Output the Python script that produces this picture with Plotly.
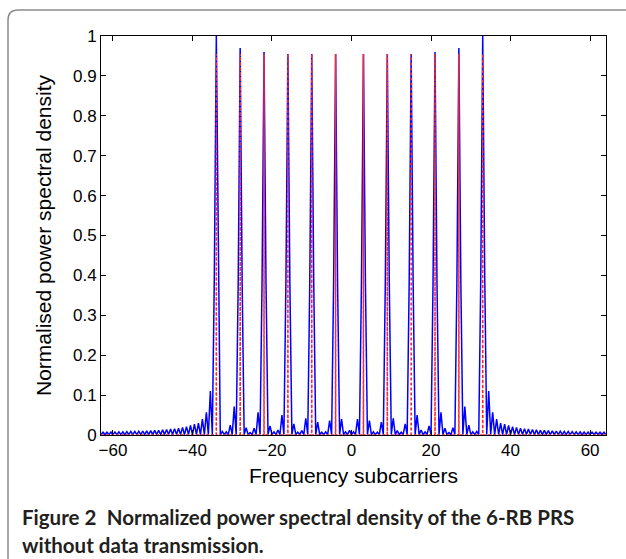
import numpy as np
import plotly.graph_objects as go

# ---------------- data ----------------
# PRS subcarrier positions and blue (actual PSD) peak heights
peak_pos = [-34, -28, -22, -16, -10, -4, 3, 9, 15, 21, 27, 33]
peak_blue = [1.0, 0.97, 0.96, 0.955, 0.955, 0.955, 0.955, 0.955, 0.955, 0.96, 0.97, 1.0]
# red dashed (ideal) impulse heights
peak_red = [0.955, 0.955, 0.955, 0.955, 0.955, 0.955, 0.955, 0.955, 0.955, 0.955, 0.955, 0.955]

# blue curve: value at integer subcarriers between lobes (nulls)
null_level = 0.001
int_grid = list(range(-63, 65))            # -63 .. 64
# blue curve: values at half-integer positions -62.5 .. 63.5
half_vals = [
    # left tail -62.5 .. -35.5
    0.007, 0.007, 0.0075, 0.0075, 0.008, 0.008, 0.0085, 0.009, 0.009, 0.0095,
    0.010, 0.0105, 0.011, 0.0115, 0.012, 0.013, 0.014, 0.015, 0.016, 0.017,
    0.019, 0.021, 0.024, 0.027, 0.030, 0.040, 0.057, 0.11,
    # -34.5 .. -3.5
    0.40, 0.39, 0.009, 0.008, 0.025, 0.071,
    0.38, 0.38, 0.018, 0.006, 0.017, 0.057,
    0.38, 0.38, 0.023, 0.008, 0.0125, 0.05,
    0.38, 0.38, 0.028, 0.007, 0.011, 0.042,
    0.38, 0.38, 0.032, 0.007, 0.008, 0.036,
    0.38, 0.38,
    # -2.5 .. 1.5
    0.040, 0.008, 0.012, 0.008, 0.040,
    # 2.5 .. 33.5
    0.38, 0.38, 0.036, 0.008, 0.007, 0.032,
    0.38, 0.38, 0.042, 0.011, 0.007, 0.028,
    0.38, 0.38, 0.05, 0.0125, 0.008, 0.023,
    0.38, 0.38, 0.057, 0.017, 0.006, 0.018,
    0.38, 0.38, 0.071, 0.025, 0.008, 0.009,
    0.39, 0.40,
    # right tail 34.5 .. 63.5
    0.11, 0.057, 0.040, 0.030, 0.027, 0.024, 0.021, 0.019, 0.017, 0.016,
    0.015, 0.014, 0.013, 0.012, 0.0115, 0.011, 0.0105, 0.010, 0.0095, 0.009,
    0.009, 0.0085, 0.008, 0.008, 0.0075, 0.0075, 0.007, 0.007, 0.007, 0.007,
]

x_ticks = [-60, -40, -20, 0, 20, 40, 60]
y_ticks = [0, 0.1, 0.2, 0.3, 0.4, 0.5, 0.6, 0.7, 0.8, 0.9, 1]
y_ticklabels = ["0", "0.1", "0.2", "0.3", "0.4", "0.5", "0.6", "0.7", "0.8", "0.9", "1"]

# ---------------- assemble traces ----------------
assert len(half_vals) == len(int_grid) - 1
peak_map = dict(zip(peak_pos, peak_blue))
bx, by = [], []
for i, n in enumerate(int_grid):
    bx.append(n)
    by.append(peak_map.get(n, null_level))
    if i < len(half_vals):
        bx.append(n + 0.5)
        by.append(half_vals[i])

rx, ry = [int_grid[0]], [0]
for p, h in zip(peak_pos, peak_red):
    rx += [p - 0.02, p, p + 0.02]
    ry += [0, h, 0]
rx.append(int_grid[-1])
ry.append(0)

fig = go.Figure()
fig.add_trace(go.Scatter(x=bx, y=by, mode="lines",
                         line=dict(color="#0000ff", width=1.5), showlegend=False,
                         hoverinfo="skip"))
fig.add_trace(go.Scatter(x=rx, y=ry, mode="lines",
                         line=dict(color="#ff2a2a", width=1.5, dash="3px,2px"),
                         showlegend=False, hoverinfo="skip"))

W, H = 626, 559
L, R, T, B = 101, 20, 36, 124
pw, ph = W - L - R, H - T - B


def px(x):
    return (x - L) / pw


def py(y):
    return (H - B - y) / ph


# rounded frame around figure (cropped at right and bottom)
frame = (f"M {px(8)},{py(575)} L {px(8)},{py(20)} "
         f"Q {px(8)},{py(10)} {px(18)},{py(10)} L {px(640)},{py(10)}")
fig.add_shape(type="path", path=frame, xref="paper", yref="paper",
              line=dict(color="#8a8a8a", width=1.5), layer="below")

font_main = "Liberation Sans, Arial, sans-serif"
fig.update_layout(
    width=W, height=H,
    margin=dict(l=L, r=R, t=T, b=B),
    paper_bgcolor="white", plot_bgcolor="white",
    font=dict(family=font_main, size=17, color="black"),
    xaxis=dict(range=[-63, 64], tickvals=x_ticks, ticks="inside", ticklen=5,
               tickcolor="black", showline=True, linecolor="black", linewidth=1,
               mirror="ticks", showgrid=False, zeroline=False,
               tickfont=dict(size=17),
               title=dict(text="Frequency subcarriers", font=dict(size=21), standoff=8)),
    yaxis=dict(range=[0, 1], tickvals=y_ticks, ticktext=y_ticklabels, ticks="inside",
               ticklen=5, tickcolor="black", showline=True, linecolor="black",
               linewidth=1, mirror="ticks", showgrid=False, zeroline=False,
               tickfont=dict(size=17),
               title=dict(text="Normalised power spectral density", font=dict(size=21),
                          standoff=15)),
)

fig.add_annotation(xref="paper", yref="paper", x=px(20), y=py(517), xanchor="left",
                   yanchor="middle", showarrow=False, align="left",
                   text="<b>Figure 2</b>  <b>Normalized power spectral density of the 6-RB PRS</b>",
                   font=dict(family="Lato, sans-serif", size=20.5, color="#231f20"))
fig.add_annotation(xref="paper", yref="paper", x=px(20), y=py(545), xanchor="left",
                   yanchor="middle", showarrow=False, align="left",
                   text="<b>without data transmission.</b>",
                   font=dict(family="Lato, sans-serif", size=20.5, color="#231f20"))

fig.write_html("out.html")
